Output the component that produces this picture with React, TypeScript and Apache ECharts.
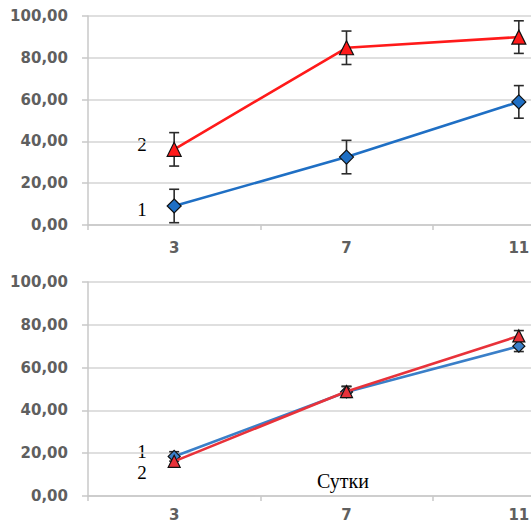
import React, { useEffect, useRef } from "react";
import * as echarts from "echarts";

const categories = ["3", "7", "11"];
const yTicks = [0, 20, 40, 60, 80, 100];

// Top panel
const topSeries1 = [9.1, 32.5, 58.9];
const topErr1 = [8, 8, 7.8];
const topSeries2 = [36.2, 84.8, 89.9];
const topErr2 = [8, 8, 7.8];

// Bottom panel
const botSeries1 = [18.5, 48.6, 70.0];
const botErr1 = [2.2, 2.5, 2.5];
const botSeries2 = [16.2, 48.8, 74.8];
const botErr2 = [2.2, 2.5, 2.5];

const BLUE = "#1f6fc4";
const RED = "#ff1a1a";
const RED2 = "#e8323a";

function errData(vals: number[], errs: number[]) {
  return vals.map((v, i) => [i, v - errs[i], v + errs[i]]);
}

function errSeries(idx: number, vals: number[], errs: number[], z: number) {
  return {
    type: "custom",
    xAxisIndex: idx,
    yAxisIndex: idx,
    z,
    silent: true,
    clip: false,
    data: errData(vals, errs),
    renderItem: (params: any, api: any) => {
      const x = api.value(0);
      const lo = api.coord([x, api.value(1)]);
      const hi = api.coord([x, api.value(2)]);
      const cap = 5;
      const style = { stroke: "#2b2b2b", lineWidth: 1.6 };
      return {
        type: "group",
        children: [
          { type: "line", shape: { x1: lo[0], y1: lo[1], x2: hi[0], y2: hi[1] }, style },
          { type: "line", shape: { x1: lo[0] - cap, y1: lo[1], x2: lo[0] + cap, y2: lo[1] }, style },
          { type: "line", shape: { x1: hi[0] - cap, y1: hi[1], x2: hi[0] + cap, y2: hi[1] }, style },
        ],
      };
    },
  };
}

function lineSeries(idx: number, vals: number[], color: string, symbol: string, size: number, z: number) {
  return {
    type: "line",
    xAxisIndex: idx,
    yAxisIndex: idx,
    data: vals,
    z,
    clip: false,
    symbol,
    symbolSize: size,
    showAllSymbol: true,
    lineStyle: { color, width: 2.6 },
    itemStyle: { color, borderColor: "#111", borderWidth: 1.2 },
  };
}

const axisLabelStyle = {
  color: "#5f5f5f",
  fontFamily: "'DejaVu Sans', Verdana, sans-serif",
  fontWeight: "bold" as const,
  fontSize: 15,
};

function xAxis(gridIndex: number, margin: number) {
  return {
    type: "category",
    gridIndex,
    data: categories,
    boundaryGap: true,
    axisLine: { show: true, lineStyle: { color: "#c8c8c8", width: 1.5 } },
    axisTick: { show: true, length: 5, lineStyle: { color: "#c8c8c8", width: 1.5 } },
    axisLabel: { ...axisLabelStyle, margin },
    splitLine: { show: false },
  };
}

function yAxis(gridIndex: number) {
  return {
    type: "value",
    gridIndex,
    min: yTicks[0],
    max: yTicks[yTicks.length - 1],
    interval: 20,
    axisLine: { show: true, lineStyle: { color: "#c8c8c8", width: 1.5 } },
    axisTick: { show: true, length: 6, lineStyle: { color: "#c8c8c8", width: 1.5 } },
    splitLine: { show: true, lineStyle: { color: "#d4d4d4", width: 1.6 } },
    axisLabel: {
      ...axisLabelStyle,
      margin: 20,
      formatter: (v: number) => v.toFixed(2).replace(".", ","),
    },
  };
}

const serif = "'Liberation Serif', 'DejaVu Serif', serif";

export default function App() {
  const ref = useRef<HTMLDivElement>(null);
  useEffect(() => {
    if (!ref.current) return;
    const chart = echarts.init(ref.current, null, { renderer: "svg" });
    chart.setOption({
      animation: false,
      backgroundColor: "#ffffff",
      grid: [
        { left: 88, top: 16, width: 517, height: 209, outerBoundsMode: "none", containLabel: false },
        { left: 88, top: 282, width: 517, height: 214, outerBoundsMode: "none", containLabel: false },
      ],
      xAxis: [xAxis(0, 15), xAxis(1, 11)],
      yAxis: [yAxis(0), yAxis(1)],
      series: [
        errSeries(0, topSeries1, topErr1, 3),
        errSeries(0, topSeries2, topErr2, 3),
        lineSeries(0, topSeries1, BLUE, "diamond", 14, 4),
        lineSeries(0, topSeries2, RED, "triangle", 14, 5),
        errSeries(1, botSeries1, botErr1, 3),
        errSeries(1, botSeries2, botErr2, 3),
        lineSeries(1, botSeries1, "#3a7fc8", "diamond", 12, 4),
        lineSeries(1, botSeries2, RED2, "triangle", 12, 5),
      ],
      graphic: [
        { type: "text", x: 142, y: 144, style: { text: "2", font: `19px ${serif}`, fill: "#000", align: "center", verticalAlign: "middle" } },
        { type: "text", x: 142, y: 209, style: { text: "1", font: `19px ${serif}`, fill: "#000", align: "center", verticalAlign: "middle" } },
        { type: "text", x: 142, y: 451, style: { text: "1", font: `19px ${serif}`, fill: "#000", align: "center", verticalAlign: "middle" } },
        { type: "text", x: 142, y: 472, style: { text: "2", font: `19px ${serif}`, fill: "#000", align: "center", verticalAlign: "middle" } },
        { type: "text", x: 343, y: 481, style: { text: "Сутки", font: `20px ${serif}`, fill: "#000", align: "center", verticalAlign: "middle" } },
      ],
    });
    return () => chart.dispose();
  }, []);
  return (
    <div
      ref={ref}
      style={{ position: "absolute", left: 0, top: 0, width: 531, height: 523 }}
    />
  );
}
